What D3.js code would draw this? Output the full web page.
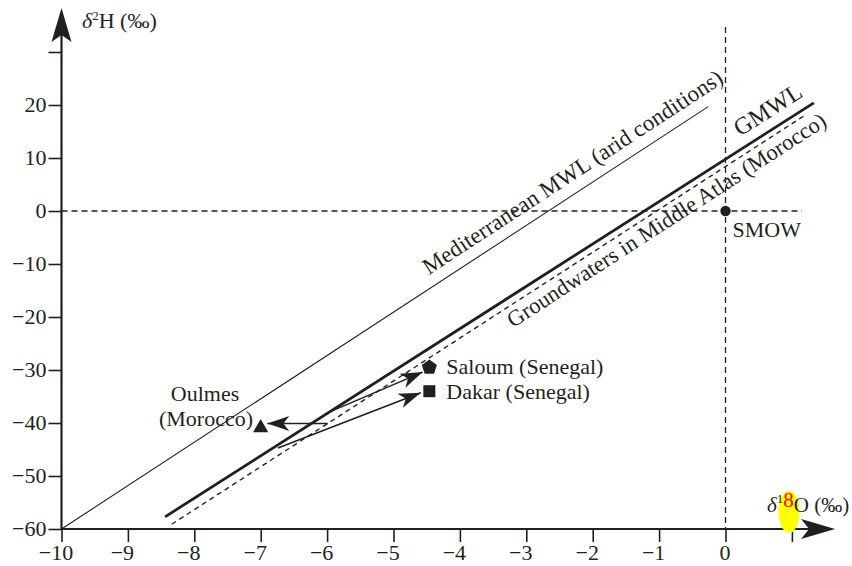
<!DOCTYPE html>
<html>
<head>
<meta charset="utf-8">
<script src="https://cdn.jsdelivr.net/npm/d3@7/dist/d3.min.js"></script>
<style>
  body { margin: 0; background: #fff; }
  svg text { font-family: "Liberation Serif", "DejaVu Serif", serif; fill: #231f20; }
</style>
</head>
<body>
<div id="chart"></div>
<script>
// δ18O / δ2H diagram

const xTicks = [-10, -9, -8, -7, -6, -5, -4, -3, -2, -1, 0, 1]
const xTickLabels = ["−10", "−9", "−8", "−7", "−6", "−5", "−4", "−3", "−2", "−1", "0", ""]
const yTicks = [-60, -50, -40, -30, -20, -10, 0, 10, 20, 30]
const yTickLabels = ["−60", "−50", "−40", "−30", "−20", "−10", "0", "10", "20", ""]

// water lines (end points, ‰)
const medMWL = [[-10, -60], [-0.26, 19.7]]
const gmwl = [[-8.44, -57.7], [1.33, 20.4]]
const groundwater = [[-8.34, -59.1], [1.2, 18.1]]

// samples
const samples = [
  { name: "Saloum (Senegal)", x: -4.46, y: -29.5, shape: "pentagon" },
  { name: "Dakar (Senegal)", x: -4.46, y: -34.0, shape: "square" },
  { name: "Oulmes", x: -7.0, y: -40.9, shape: "triangle" },
  { name: "SMOW", x: 0, y: 0, shape: "circle" }
]

// arrows [from, to]
const arrows = [
  [[-5.99, -40.1], [-6.9, -40.1]],
  [[-5.96, -37.9], [-4.56, -30.4]],
  [[-6.74, -44.7], [-4.59, -34.3]]
]

const width = 852
const height = 566
const ink = "#231f20"

const svg = d3.select("#chart")
  .append("svg")
    .attr("width", width)
    .attr("height", height)

const x = d3.scaleLinear().domain([-10, 0]).range([61.5, 725.5])
const y = d3.scaleLinear().domain([-60, 30]).range([529, 52])

const xEnd = 1.65   // arrow tip of the x axis
const yEnd = 38.3   // arrow tip of the y axis

const line = d3.line().x(d => x(d[0])).y(d => y(d[1]))

// arrowhead markers
const defs = svg.append("defs")
defs.append("marker")
    .attr("id", "head")
    .attr("markerUnits", "userSpaceOnUse")
    .attr("viewBox", "-24 -9 26 18")
    .attr("refX", 0).attr("refY", 0)
    .attr("markerWidth", 26).attr("markerHeight", 18)
    .attr("orient", "auto")
  .append("path")
    .attr("d", "M0,0 L-22,-7.5 L-16,0 L-22,7.5 Z")
    .attr("fill", ink)

// reference dashed lines through SMOW
svg.append("path")
    .attr("d", line([[-10, 0], [1.15, 0]]))
    .attr("stroke", ink).attr("stroke-width", 1.3)
    .attr("stroke-dasharray", "6,4").attr("fill", "none")
svg.append("path")
    .attr("d", line([[0, 34.7], [0, -60]]))
    .attr("stroke", ink).attr("stroke-width", 1.3)
    .attr("stroke-dasharray", "6,4").attr("fill", "none")

// axes
const xAxis = svg.append("g")
  .attr("transform", "translate(0," + y(-60) + ")")
  .call(d3.axisBottom(x).tickValues(xTicks).tickSize(13).tickFormat((d, i) => xTickLabels[i]))
const yAxis = svg.append("g")
  .attr("transform", "translate(" + x(-10) + ",0)")
  .call(d3.axisLeft(y).tickValues(yTicks).tickSize(13).tickFormat((d, i) => yTickLabels[i]))

for (const g of [xAxis, yAxis]) {
  g.select(".domain").remove()
  g.selectAll(".tick line").attr("stroke", ink).attr("stroke-width", 1.6)
  g.selectAll(".tick text")
    .attr("font-size", 22)
    .attr("font-family", "Liberation Serif, serif")
    .attr("fill", ink)
}
xAxis.selectAll(".tick text").attr("dy", "0.68em").attr("dx", d => d < 0 ? -6 : -1)
yAxis.selectAll(".tick text").attr("x", -15).attr("dy", "0.3em")

// axis lines with arrows
svg.append("line")
    .attr("x1", x(-10)).attr("y1", y(-60))
    .attr("x2", x(xEnd) - 20).attr("y2", y(-60))
    .attr("stroke", ink).attr("stroke-width", 2.2)
svg.append("line")
    .attr("x1", x(-10)).attr("y1", y(-60))
    .attr("x2", x(-10)).attr("y2", y(yEnd) + 20)
    .attr("stroke", ink).attr("stroke-width", 2.2)

const tx = x(xEnd), ty = y(-60)
svg.append("path")
    .attr("d", `M${tx},${ty} L${tx - 34},${ty - 10} L${tx - 26},${ty} L${tx - 34},${ty + 10} Z`)
    .attr("fill", ink)
const ax = x(-10), ay = y(yEnd)
svg.append("path")
    .attr("d", `M${ax},${ay} L${ax - 10},${ay + 34} L${ax},${ay + 27} L${ax + 10},${ay + 34} Z`)
    .attr("fill", ink)

// axis titles
const yTitle = svg.append("text")
    .attr("x", 82).attr("y", 28)
    .attr("font-size", 22)
yTitle.append("tspan").attr("font-style", "italic").text("δ")
yTitle.append("tspan").attr("font-size", 13).attr("dy", -8).text("2")
yTitle.append("tspan").attr("dy", 8).text("H (‰)")

svg.append("ellipse")
    .attr("cx", 789).attr("cy", 512).attr("rx", 10.5).attr("ry", 21)
    .attr("fill", "#ffff00")
const xTitle = svg.append("text")
    .attr("x", 767).attr("y", 512)
    .attr("font-size", 21)
xTitle.append("tspan").attr("font-style", "italic").text("δ")
xTitle.append("tspan").attr("font-size", 13).attr("dy", -9).text("1")
xTitle.append("tspan").attr("dy", 4).style("fill", "#ff0000").text("8")
xTitle.append("tspan").attr("dy", 5).text("O (‰)")

// water lines
svg.append("path").attr("d", line(medMWL))
    .attr("stroke", ink).attr("stroke-width", 1.1).attr("fill", "none")
svg.append("path").attr("d", line(gmwl))
    .attr("stroke", ink).attr("stroke-width", 2.8).attr("fill", "none")
svg.append("path").attr("d", line(groundwater))
    .attr("stroke", ink).attr("stroke-width", 1.4)
    .attr("stroke-dasharray", "5,4").attr("fill", "none")

// sample arrows
svg.selectAll(".arrow")
  .data(arrows)
  .join("path")
    .attr("class", "arrow")
    .attr("d", d => line(d))
    .attr("stroke", ink).attr("stroke-width", 1.6)
    .attr("fill", "none")
    .attr("marker-end", "url(#head)")

// sample symbols
const pentagon = {
  draw(context, size) {
    const r = Math.sqrt(size / 2.378)
    for (let i = 0; i < 5; i++) {
      const a = -Math.PI / 2 + i * 2 * Math.PI / 5
      if (i === 0) context.moveTo(r * Math.cos(a), r * Math.sin(a))
      else context.lineTo(r * Math.cos(a), r * Math.sin(a))
    }
    context.closePath()
  }
}
const shapes = {
  pentagon: [pentagon, 150],
  square: [d3.symbolSquare, 144],
  triangle: [d3.symbolTriangle, 100],
  circle: [d3.symbolCircle, 85]
}
svg.selectAll(".sample")
  .data(samples)
  .join("path")
    .attr("class", "sample")
    .attr("transform", d => "translate(" + x(d.x) + "," + y(d.y) + ")")
    .attr("d", d => d3.symbol(shapes[d.shape][0], shapes[d.shape][1])())
    .attr("fill", ink)

// labels
const fs = 22
svg.append("text").attr("x", x(-4.46) + 17).attr("y", y(-29.5) + 7)
    .attr("font-size", fs).text("Saloum (Senegal)")
svg.append("text").attr("x", x(-4.46) + 17).attr("y", y(-34.0) + 8)
    .attr("font-size", fs).text("Dakar (Senegal)")
svg.append("text").attr("x", 205).attr("y", 401)
    .attr("font-size", fs).attr("text-anchor", "middle").text("Oulmes")
svg.append("text").attr("x", 253).attr("y", 426)
    .attr("font-size", fs).attr("text-anchor", "end").text("(Morocco)")
svg.append("text").attr("x", x(0) + 7).attr("y", y(0) + 26)
    .attr("font-size", fs).text("SMOW")

// rotated line labels
function angle(pts) {
  return Math.atan2(y(pts[1][1]) - y(pts[0][1]), x(pts[1][0]) - x(pts[0][0])) * 180 / Math.PI
}
const lineLabels = [
  { text: "Mediterranean MWL (arid conditions)", x: -4.47, y: -12.1, pts: medMWL, size: 23 },
  { text: "GMWL", x: 0.22, y: 14.0, pts: gmwl, size: 24 },
  { text: "Groundwaters in Middle Atlas (Morocco)", x: -3.2, y: -22.1, pts: groundwater, size: 22.5 }
]
svg.selectAll(".linelabel")
  .data(lineLabels)
  .join("text")
    .attr("class", "linelabel")
    .attr("font-size", d => d.size)
    .attr("transform", d => "translate(" + x(d.x) + "," + y(d.y) + ") rotate(" + angle(d.pts) + ")")
    .text(d => d.text)
</script>
</body>
</html>
